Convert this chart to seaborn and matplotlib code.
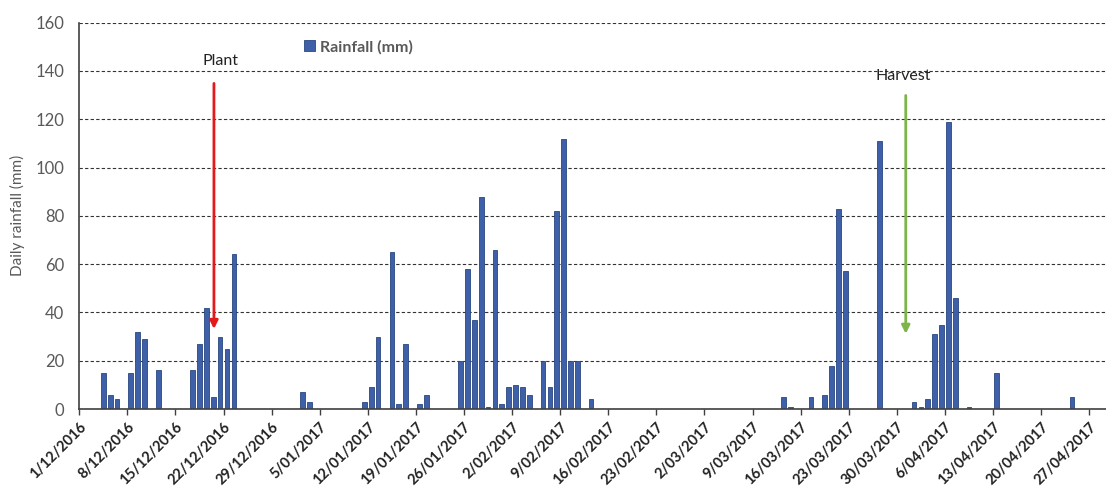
import matplotlib
matplotlib.use("Agg")
import matplotlib.pyplot as plt
import seaborn as sns
import pandas as pd
import numpy as np

# ---- data ----
start_date = "2016-12-01"
rain_dates = [
    "2016-12-04", "2016-12-05", "2016-12-06", "2016-12-08", "2016-12-09", "2016-12-10",
    "2016-12-12", "2016-12-17", "2016-12-18", "2016-12-19", "2016-12-20", "2016-12-21",
    "2016-12-22", "2016-12-23", "2017-01-02", "2017-01-03",
    "2017-01-11", "2017-01-12", "2017-01-13", "2017-01-15", "2017-01-16", "2017-01-17",
    "2017-01-19", "2017-01-20",
    "2017-01-25", "2017-01-26", "2017-01-27", "2017-01-28", "2017-01-29", "2017-01-30",
    "2017-01-31", "2017-02-01", "2017-02-02", "2017-02-03", "2017-02-04",
    "2017-02-06", "2017-02-07", "2017-02-08", "2017-02-09", "2017-02-10", "2017-02-11",
    "2017-02-13",
    "2017-03-13", "2017-03-14", "2017-03-17", "2017-03-19", "2017-03-20", "2017-03-21",
    "2017-03-22", "2017-03-27",
    "2017-04-01", "2017-04-02", "2017-04-03", "2017-04-04", "2017-04-05", "2017-04-06",
    "2017-04-07", "2017-04-09", "2017-04-13", "2017-04-24",
]
rainfall_mm = [
    15, 6, 4, 15, 32, 29,
    16, 16, 27, 42, 5, 30,
    25, 64, 7, 3,
    3, 9, 30, 65, 2, 27,
    2, 6,
    20, 58, 37, 88, 1, 66,
    2, 9, 10, 9, 6,
    20, 9, 82, 112, 20, 20,
    4,
    5, 1, 5, 6, 18, 83,
    57, 111,
    3, 1, 4, 31, 35, 119,
    46, 1, 15, 5,
]
tick_labels = [
    "1/12/2016", "8/12/2016", "15/12/2016", "22/12/2016", "29/12/2016",
    "5/01/2017", "12/01/2017", "19/01/2017", "26/01/2017", "2/02/2017",
    "9/02/2017", "16/02/2017", "23/02/2017", "2/03/2017", "9/03/2017",
    "16/03/2017", "23/03/2017", "30/03/2017", "6/04/2017", "13/04/2017",
    "20/04/2017", "27/04/2017",
]
y_ticks = [0, 20, 40, 60, 80, 100, 120, 140, 160]

# ---- build frame ----
t0 = pd.Timestamp(start_date)
df = pd.DataFrame({"date": pd.to_datetime(rain_dates), "rain": rainfall_mm})
df["day"] = (df["date"] - t0).dt.days + 0.5
tick_pos = [(pd.to_datetime(l, dayfirst=True) - t0).days for l in tick_labels]

# ---- style ----
sns.set_theme(style="white")
plt.rcParams["font.family"] = ["Lato", "DejaVu Sans"]

fig = plt.figure(figsize=(11.06, 4.95), dpi=100)
ax = fig.add_axes([0.0717, 0.1737, 0.928, 0.7805])

sns.barplot(data=df, x="day", y="rain", native_scale=True, width=0.68,
            color="#3d60a8", edgecolor="#2a4680", linewidth=0.6,
            saturation=1, ax=ax, label="Rainfall (mm)")

ax.set_xlim(0, 149.4)
ax.set_ylim(0, 160)
ax.set_yticks(y_ticks)
ax.set_yticklabels([str(v) for v in y_ticks], color="#595959", fontsize=12)
ax.set_xticks(tick_pos)
ax.set_xticklabels(tick_labels, rotation=45, ha="right", rotation_mode="anchor",
                   fontsize=10.5, fontweight="bold", color="#222222")
ax.tick_params(axis="x", which="major", direction="out", length=4, width=1,
               color="#404040", bottom=True, pad=4)
ax.tick_params(axis="y", length=0, pad=11)

ax.set_xlabel("")
ax.set_ylabel("Daily rainfall (mm)", color="#595959", fontsize=11, labelpad=7)

ax.yaxis.grid(True, linestyle=(0, (3, 2)), color="#333333", linewidth=0.8)
ax.set_axisbelow(True)
for s in ["top", "right"]:
    ax.spines[s].set_visible(False)
for s in ["left", "bottom"]:
    ax.spines[s].set_color("#404040")
    ax.spines[s].set_linewidth(1.2)

# annotations
ax.annotate("", xy=(19.6, 32), xytext=(19.6, 136),
            arrowprops=dict(arrowstyle="-|>", color="#e31a1c", lw=2,
                            mutation_scale=12))
ax.text(20.5, 144, "Plant", ha="center", va="center", fontsize=11.5, color="#222222")
ax.annotate("", xy=(120.3, 30), xytext=(120.3, 131),
            arrowprops=dict(arrowstyle="-|>", color="#7db548", lw=2,
                            mutation_scale=12))
ax.text(119.9, 138, "Harvest", ha="center", va="center", fontsize=11.5, color="#222222")

handles, labels = ax.get_legend_handles_labels()
leg = ax.legend(handles[:1], labels[:1], loc="center left",
                bbox_to_anchor=(0.262, 0.905), bbox_transform=fig.transFigure,
                frameon=False, handlelength=0.7, handleheight=0.7,
                handletextpad=0.3, prop={"size": 11.5, "weight": "bold"})
for t in leg.get_texts():
    t.set_color("#595959")

fig.savefig("out.png", dpi=100)
